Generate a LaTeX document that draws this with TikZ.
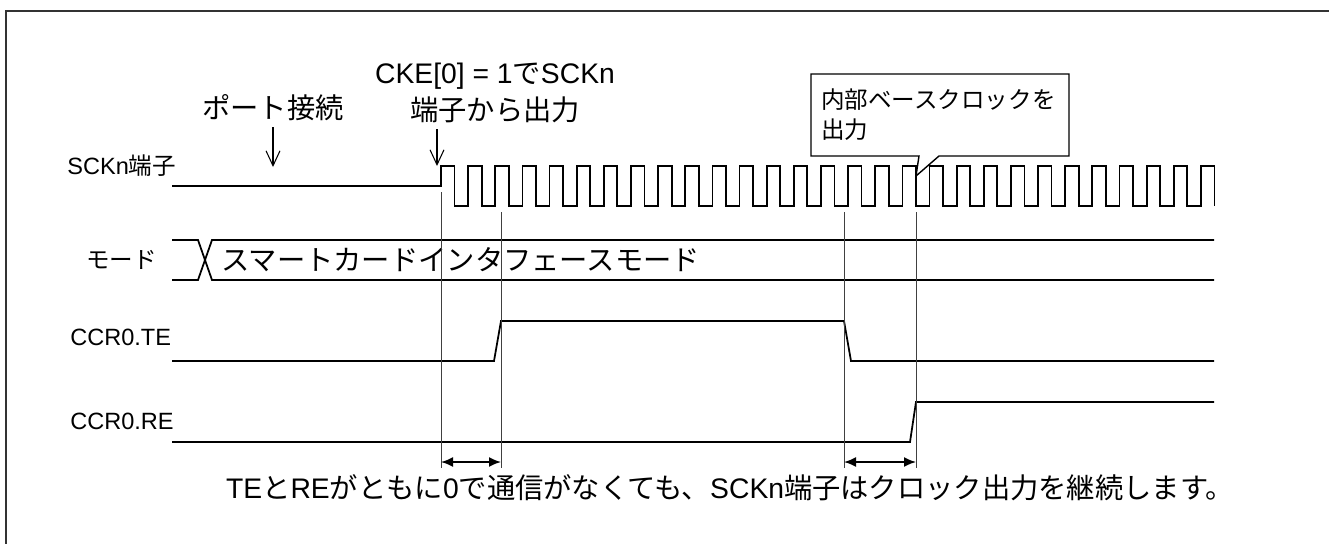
\documentclass[tikz,border=0pt]{standalone}
\usepackage{fontspec}
\setmainfont{Liberation Sans}
\newfontfamily\jp{Noto Sans CJK JP}
\usepackage{tikz}
\usetikzlibrary{arrows.meta}
\newcommand{\bigtext}{\fontsize{16.1}{21}\selectfont}
\newcommand{\smalltext}{\fontsize{13.4}{17}\selectfont}

\begin{document}
\begin{tikzpicture}[x=0.02cm, y=-0.02cm,
  signal/.style={line width=1pt, line join=miter},
  guide/.style={line width=0.5pt, black!75},
  dimarrow/.style={line width=1pt, {Latex[length=2.4mm,width=2mm]}-{Latex[length=2.4mm,width=2mm]}},
  pointer/.style={line width=0.6pt, -{Straight Barb[length=3mm,width=2.8mm]}},
  siglabel/.style={anchor=west, inner sep=0pt, font=\smalltext},
  note/.style={font=\bigtext, align=center}]
\useasboundingbox (0,0) rectangle (1329,544);
\draw[line width=0.6pt, black!80] (6,544) -- (6,11) -- (1329,11);

\node[siglabel] (lblsck) at (67,166) {SCKn{\jp 端子}};
\node[siglabel] (lblmode) at (86,260) {\jp モード};
\node[siglabel] (lblte) at (70,337) {CCR0.TE};
\node[siglabel] (lblre) at (70,421) {CCR0.RE};

\draw[signal] (172,186) -- (441,186) -- (441,166)
  \foreach \k in {0,...,27} { -- ({441+\k*27.14+13.5},166) -- ({441+\k*27.14+13.5},206)
    -- ({441+(\k+1)*27.14},206) -- ({441+(\k+1)*27.14},166) }
  -- (1214.4,166) -- (1214.4,206);

\draw[signal] (172,240) -- (198,240) -- (212,280) -- (1214,280);
\draw[signal] (172,280) -- (198,280) -- (212,240) -- (1214,240);
\node[anchor=west, inner sep=0pt, font=\bigtext] (modetext) at (221,260) {\jp スマートカードインタフェースモード};

\draw[signal] (172,361) -- (494,361) -- (501,321) -- (844,321) -- (851,361) -- (1214,361);
\draw[signal] (172,442) -- (910,442) -- (916,402) -- (1214,402);

\draw[guide] (441,192) -- (441,468);
\draw[guide] (501,212) -- (501,468);
\draw[guide] (844,212) -- (844,468);
\draw[guide] (916,212) -- (916,468);

\coordinate (d1a) at (441,462);
\coordinate (d1b) at (501,462);
\coordinate (d2a) at (844,462);
\coordinate (d2b) at (916,462);
\draw[dimarrow] (d1a) -- (d1b);
\draw[dimarrow] (d2a) -- (d2b);

\node[note] (portnote) at (273,108) {\jp ポート接続};
\coordinate (portpt) at (273,167);
\draw[pointer] (portnote.south) -- (portpt);

\node[note] (ckenote) at (495,93) {CKE[0] = 1{\jp で}SCKn\\{\jp 端子から出力}};
\coordinate (ckept) at (437,166);
\draw[pointer] (ckenote.south -| ckept) -- (ckept);

\draw[line width=0.8pt] (811,74) -- (1069,74) -- (1069,156) -- (939,156) -- (916,176)
  -- (919,156) -- (811,156) -- cycle;
\node[anchor=west, inner sep=0pt, font=\smalltext, align=left] (bubble) at (821,115)
  {{\jp 内部ベースクロックを}\\{\jp 出力}};

\node[note] (bottomnote) at (730,488) {TE{\jp と}RE{\jp がともに}0{\jp で通信がなくても、}SCKn{\jp 端子はクロック出力を継続します。}};
\end{tikzpicture}
\end{document}
